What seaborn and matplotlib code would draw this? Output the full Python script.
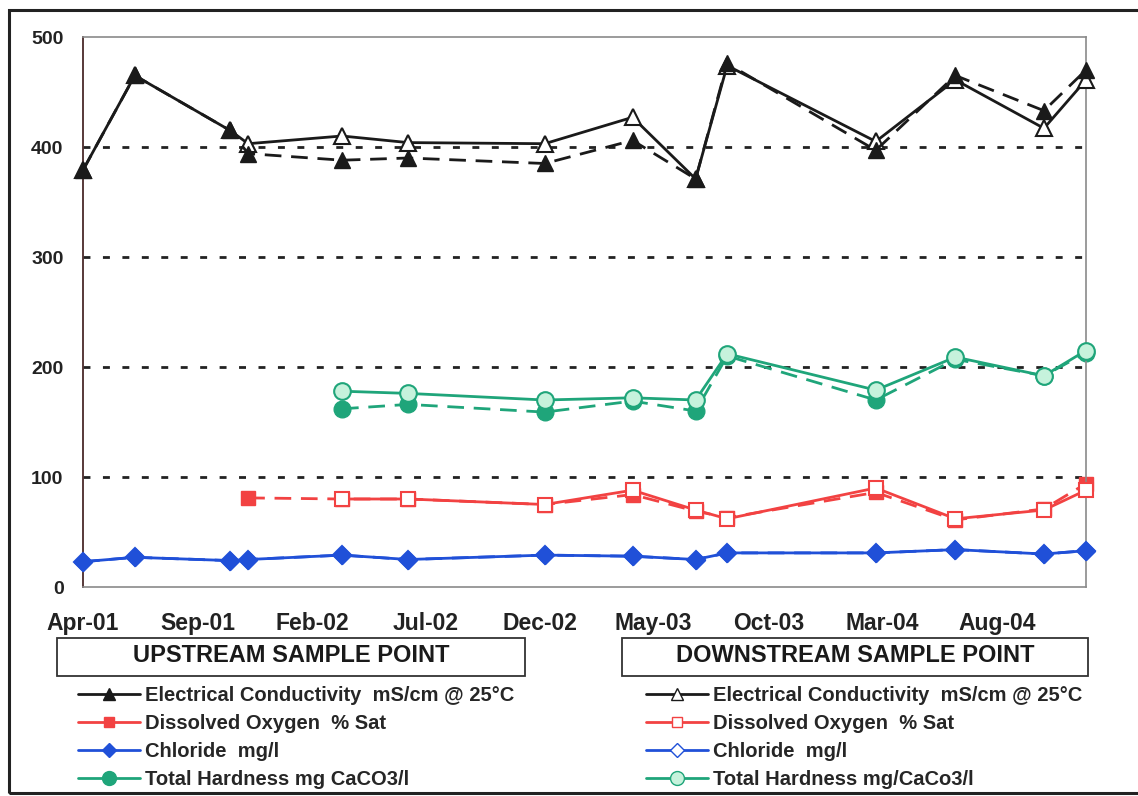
import pandas as pd
import seaborn as sns
import matplotlib.pyplot as plt
import matplotlib.dates as mdates
from matplotlib.lines import Line2D
from matplotlib.patches import Rectangle

# sampling dates (same for both sample points)
dates = ['2001-04-01', '2001-06-09', '2001-10-14', '2001-11-07', '2002-03-12',
         '2002-06-08', '2002-12-07', '2003-04-03', '2003-06-26', '2003-08-07',
         '2004-02-21', '2004-06-06', '2004-10-02', '2004-11-27']

# upstream sample point
ec_up = [379, 465, 415, 394, 388, 390, 385, 406, 371, 476, 397, 465, 433, 470]
do_up = [None, None, None, 81, 80, 80, 75, 84, 69, 63, 86, 61, 71, 94]
cl_up = [23, 27, 24, 25, 29, 25, 29, 28, 25, 31, 31, 34, 30, 33]
th_up = [None, None, None, None, 162, 166, 159, 169, 160, 210, 170, 207, 192, 213]

# downstream sample point
ec_down = [379, 465, 415, 403, 410, 404, 403, 427, 371, 474, 405, 461, 417, 461]
do_down = [None, None, None, None, 80, 80, 75, 88, 70, 62, 90, 62, 70, 88]
cl_down = [23, 27, 24, 25, 29, 25, 29, 28, 25, 31, 31, 34, 30, 33]
th_down = [None, None, None, None, 178, 176, 170, 172, 170, 212, 179, 209, 192, 215]

labels_up = ['Electrical Conductivity  mS/cm @ 25°C', 'Dissolved Oxygen  % Sat',
             'Chloride  mg/l', 'Total Hardness mg CaCO3/l']
labels_down = ['Electrical Conductivity  mS/cm @ 25°C', 'Dissolved Oxygen  % Sat',
               'Chloride  mg/l', 'Total Hardness mg/CaCo3/l']

colors = ['#1a1a1a', '#f24242', '#2050d8', '#1fa57a']
markers = ['^', 's', 'D', 'o']
hollow_fill = ['white', 'white', 'white', '#c6f2dc']
msizes = [11, 9.5, 9, 12]
up_on_top = [True, False, True, False]

sns.set_style('white')
plt.rcParams['font.family'] = ['Liberation Sans', 'DejaVu Sans']
plt.rcParams['font.weight'] = 'bold'

fig = plt.figure(figsize=(11.38, 7.96), dpi=100)
ax = fig.add_axes([83 / 1138, 1 - 587 / 796, (1086 - 83) / 1138, (587 - 37) / 796])

x = pd.to_datetime(dates)
ups = [ec_up, do_up, cl_up, th_up]
downs = [ec_down, do_down, cl_down, th_down]

for i in range(4):
    z_up = 4 if up_on_top[i] else 2
    d = pd.DataFrame({'date': x, 'v': pd.to_numeric(pd.Series(downs[i]))}).dropna()
    sns.lineplot(data=d, x='date', y='v', ax=ax, color=colors[i], lw=2,
                 marker=markers[i], markersize=msizes[i], markerfacecolor=hollow_fill[i],
                 markeredgecolor=colors[i], markeredgewidth=1.5, zorder=3, clip_on=False)
    u = pd.DataFrame({'date': x, 'v': pd.to_numeric(pd.Series(ups[i]))}).dropna()
    sns.lineplot(data=u, x='date', y='v', ax=ax, color=colors[i], lw=2,
                 linestyle=(0, (6, 3.5)), marker=markers[i], markersize=msizes[i],
                 markerfacecolor=colors[i], markeredgecolor=colors[i],
                 markeredgewidth=1.0, zorder=z_up, clip_on=False)

ax.set_xlim(pd.Timestamp('2001-04-01'), pd.Timestamp('2004-11-27'))
ax.set_ylim(0, 500)
ax.set_yticks(range(0, 501, 100))
for yv in range(100, 500, 100):
    ax.axhline(yv, color='#222222', lw=2, linestyle=(0, (2.5, 4.5)), zorder=1)

ticks = pd.date_range('2001-04-01', '2004-08-01', freq='5MS')
ax.set_xticks(ticks)
ax.xaxis.set_major_formatter(mdates.DateFormatter('%b-%y'))
ax.set_xlabel('')
ax.set_ylabel('')
ax.tick_params(axis='x', length=5, width=1, color='#777777', direction='out',
               labelsize=16.5, pad=13)
ax.tick_params(axis='y', length=0, labelsize=14, pad=14)
for lab in ax.get_xticklabels() + ax.get_yticklabels():
    lab.set_fontweight('bold')
    lab.set_color('#222222')

for side in ['top', 'right', 'bottom']:
    ax.spines[side].set_color('#8a8a8a')
    ax.spines[side].set_linewidth(1.2)
ax.spines['left'].set_color('#4a2a2a')
ax.spines['left'].set_linewidth(1.3)

# outer chart border
fig.patches.append(Rectangle((9 / 1138, 3 / 796), 1.2, 1 - 13 / 796, transform=fig.transFigure,
                             fill=False, edgecolor='#222222', lw=2.2))

# titled boxes
for x0, x1, title in [(57, 525, 'UPSTREAM SAMPLE POINT'), (622, 1088, 'DOWNSTREAM SAMPLE POINT')]:
    fig.patches.append(Rectangle((x0 / 1138, 1 - 676 / 796), (x1 - x0) / 1138, 38 / 796,
                                 transform=fig.transFigure, fill=False,
                                 edgecolor='#333333', lw=1.3))
    fig.text((x0 + x1) / 2 / 1138, 1 - 656 / 796, title, ha='center', va='center',
             fontsize=17, fontweight='bold', color='#1a1a1a')

handles_up = [Line2D([], [], color=colors[i], lw=2, marker=markers[i], markersize=msizes[i] - 2,
                     markerfacecolor=colors[i], markeredgecolor=colors[i]) for i in range(4)]
handles_down = [Line2D([], [], color=colors[i], lw=2, marker=markers[i], markersize=msizes[i] - 2,
                       markerfacecolor=hollow_fill[i], markeredgecolor=colors[i]) for i in range(4)]

leg_kw = dict(frameon=False, loc='upper left', handlelength=3.1, handletextpad=0.2,
              labelspacing=0.45, prop={'size': 14.5, 'weight': 'bold'}, borderaxespad=0)
fig.legend(handles_up, labels_up, bbox_to_anchor=(70 / 1138, 1 - 678 / 796), **leg_kw)
fig.legend(handles_down, labels_down, bbox_to_anchor=(638 / 1138, 1 - 678 / 796), **leg_kw)

fig.savefig('out.png', dpi=100)
